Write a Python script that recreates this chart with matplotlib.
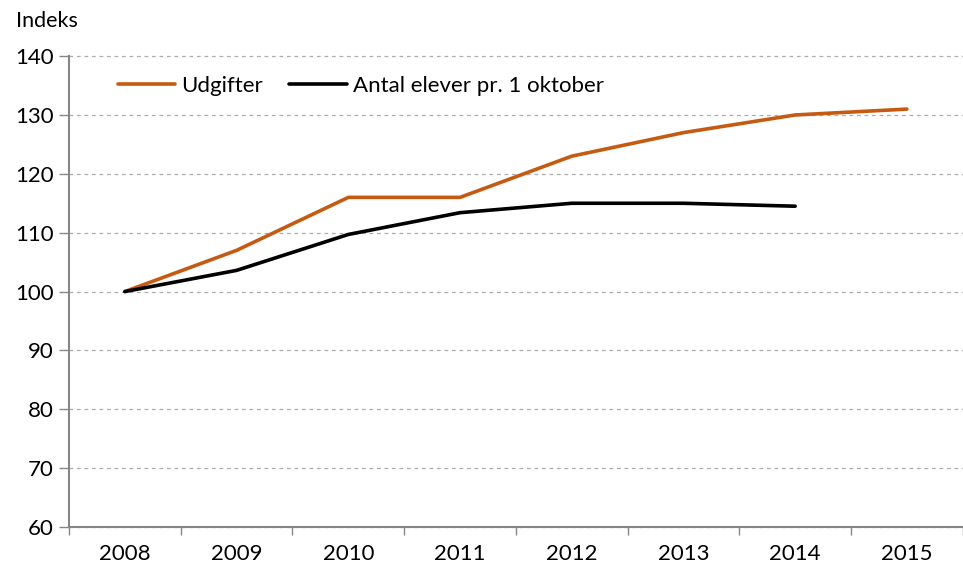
import numpy as np
import matplotlib.pyplot as plt

plt.rcParams['font.family'] = ['Lato', 'DejaVu Sans']

years = ['2008', '2009', '2010', '2011', '2012', '2013', '2014', '2015']
udgifter = [100, 107, 116, 116, 123, 127, 130, 131]
elever = [100, 103.6, 109.7, 113.4, 115, 115, 114.5]

orange = '#C55A11'
gray = '#868686'

fig = plt.figure(figsize=(9.63, 5.68), dpi=100)
ax = fig.add_axes([0.0717, 0.0722, 0.928, 0.829])

x = np.arange(len(years))
ax.plot(x, udgifter, color=orange, lw=2.6, label='Udgifter', solid_capstyle='round')
ax.plot(x[:len(elever)], elever, color='black', lw=2.6, label='Antal elever pr. 1 oktober',
        solid_capstyle='round')

ax.set_xlim(-0.5, len(years) - 0.5)
ax.set_ylim(60, 140)
ax.set_yticks(np.arange(60, 141, 10))
ax.set_xticks(x)
ax.set_xticklabels(years)
ax.set_xticks(np.arange(-0.5, len(years), 1), minor=True)
ax.tick_params(axis='x', which='major', length=0, pad=12, labelsize=16)
ax.tick_params(axis='x', which='minor', length=6, color=gray, width=1)
ax.tick_params(axis='y', length=7, color=gray, width=1, labelsize=16, pad=4)

ax.grid(axis='y', linestyle=(0, (3, 3)), color='#ADADAD', lw=0.9)
for g in ax.get_ygridlines():
    g.set_clip_on(False)
ax.set_axisbelow(True)

for s in ['top', 'right']:
    ax.spines[s].set_visible(False)
for s in ['left', 'bottom']:
    ax.spines[s].set_color(gray)
    ax.spines[s].set_linewidth(1.5)

fig.text(0.017, 0.963, 'Indeks', fontsize=15.5, va='center', ha='left')

ax.legend(loc='upper left', bbox_to_anchor=(0.032, 1.0), ncol=2, frameon=False,
          fontsize=16, handlelength=2.6, handletextpad=0.25, columnspacing=1.2)

fig.savefig('out.png', dpi=100)
